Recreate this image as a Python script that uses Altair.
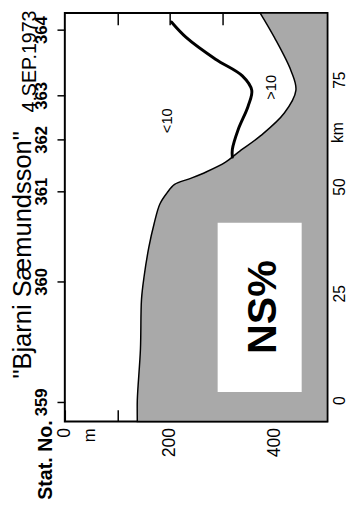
import altair as alt
import pandas as pd

FONT = "Liberation Sans"

# The section is printed turned on its side: depth (m) runs across, distance (km) runs up.
km_domain = [-5, 90.6]
depth_domain = [0, 500]

# sea bed (upper edge of the stippled area)
bottom_km = [-5, 0, 12, 23.6, 29, 35.8, 41.3, 45.9, 48.4, 50.5, 51.8, 53.4, 55.7, 58,
             61.9, 67.2, 72.5, 77, 84.9, 90.6]
bottom_depth = [138, 138, 144, 146, 151, 160, 170, 181, 194, 209, 237, 269, 306, 330,
                373, 418, 440, 431, 399, 372]
max_depth = 500

# 10 % contour
contour_km = [88.5, 84.9, 79.8, 75.9, 72.5, 68.8, 63.3, 58.7, 56.9]
contour_depth = [203, 231, 287, 338, 356, 349, 330, 319, 319]

# stations
stations = ["359", "360", "361", "362", "363", "364"]
station_km = [-0.4, 27.8, 48.9, 61.0, 71.3, 86.7]

km_ticks = [0, 25, 50, 75]
depth_ticks = [0, 100, 200, 300, 400]
depth_labels = [0, 200, 400]

# white label box
box_depth = [291, 451]
box_km = [1.9, 41.5]

# annotations
ann_text = ['"Bjarni Sæmundsson"', "4.SEP.1973", "Stat. No.", "m", "km", "<10", ">10", "NS%"]
ann_depth = [-64.5, -55, -24.3, 48.5, 520, 194, 392, 377]
ann_km = [34.0, 79.25, -14.0, -8.2, 62.6, 65.4, 73.2, 21.8]

bed_df = pd.DataFrame({"km": bottom_km, "depth": bottom_depth,
                       "maxd": [max_depth] * len(bottom_km)})
con_df = pd.DataFrame({"km": contour_km, "depth": contour_depth,
                       "seq": list(range(len(contour_km)))})
box_df = pd.DataFrame({"d1": [box_depth[0]], "d2": [box_depth[1]],
                       "k1": [box_km[0]], "k2": [box_km[1]]})
ann_df = pd.DataFrame({"text": ann_text, "depth": ann_depth, "km": ann_km,
                       "i": list(range(len(ann_text)))})

xs = alt.Scale(domain=depth_domain, nice=False, zero=False)
ys = alt.Scale(domain=km_domain, nice=False, zero=False)

common = dict(labelFont=FONT, labelColor="black", tickColor="black", tickWidth=1.5,
              domain=False, grid=False, title=None, labelOverlap=False,
              labelBound=False, labelFlush=False)

station_expr = "".join(
    f"abs(datum.value - ({k})) < 0.5 ? '{s}' : " for k, s in zip(station_km, stations)
) + "''"

left_axis = alt.Axis(orient="left", values=station_km, labelExpr=station_expr,
                     labelAngle=270, labelAlign="center", labelBaseline="alphabetic",
                     labelPadding=11, tickSize=8, labelFontSize=17,
                     labelFontWeight="bold", **common)
right_axis = alt.Axis(orient="right", values=km_ticks, offset=-10, tickSize=10,
                      labelAngle=270, labelAlign="center", labelBaseline="top",
                      labelPadding=4, labelFontSize=16, **common)
bottom_axis = alt.Axis(orient="bottom", values=depth_ticks, offset=-12, tickSize=12,
                       labelExpr="indexof(" + str(depth_labels) + ", datum.value) >= 0 ? datum.label : ''",
                       labelAngle=270, labelAlign="right", labelBaseline="middle",
                       labelPadding=6, labelFontSize=18, **common)
top_axis = alt.Axis(orient="top", values=depth_ticks[1:], offset=-12, tickSize=12,
                    labels=False, **common)

bed = alt.Chart(bed_df).mark_area(
    orient="horizontal", fill="#a9a9a9", stroke="black", strokeWidth=1.5,
    interpolate="catmull-rom"
).encode(
    y=alt.Y("km:Q", scale=ys, axis=left_axis),
    x=alt.X("depth:Q", scale=xs, axis=bottom_axis),
    x2="maxd:Q",
)

box = alt.Chart(box_df).mark_rect(fill="white").encode(
    x=alt.X("d1:Q", scale=xs, axis=None), x2="d2:Q",
    y=alt.Y("k1:Q", scale=ys, axis=None), y2="k2:Q",
)

contour = alt.Chart(con_df).mark_line(
    color="black", strokeWidth=3, interpolate="catmull-rom", strokeCap="round"
).encode(
    x=alt.X("depth:Q", scale=xs, axis=top_axis),
    y=alt.Y("km:Q", scale=ys, axis=right_axis),
    order=alt.Order("seq:Q"),
)


def label(i, size, weight="normal", baseline="middle"):
    return alt.Chart(ann_df).transform_filter(alt.datum.i == i).mark_text(
        angle=270, fontSize=size, fontWeight=weight, baseline=baseline,
        align="center", font=FONT, color="black"
    ).encode(
        x=alt.X("depth:Q", scale=xs, axis=None),
        y=alt.Y("km:Q", scale=ys, axis=None),
        text="text:N",
    )


texts = [
    label(0, 26, baseline="alphabetic"),
    label(1, 20, baseline="alphabetic"),
    label(2, 20, weight="bold", baseline="alphabetic"),
    label(3, 17),
    label(4, 16),
    label(5, 15),
    label(6, 15),
    label(7, 42, weight="bold"),
]

chart = alt.layer(bed, box, contour, *texts).resolve_axis(
    x="independent", y="independent"
).properties(
    width=268, height=417,
    autosize=alt.AutoSizeParams(type="none"),
    padding={"left": 58, "top": 0, "right": 20, "bottom": 78},
    background="white",
).configure_view(stroke="black", strokeWidth=2)

chart.save("out.html", embed_options={"renderer": "svg", "actions": False})
